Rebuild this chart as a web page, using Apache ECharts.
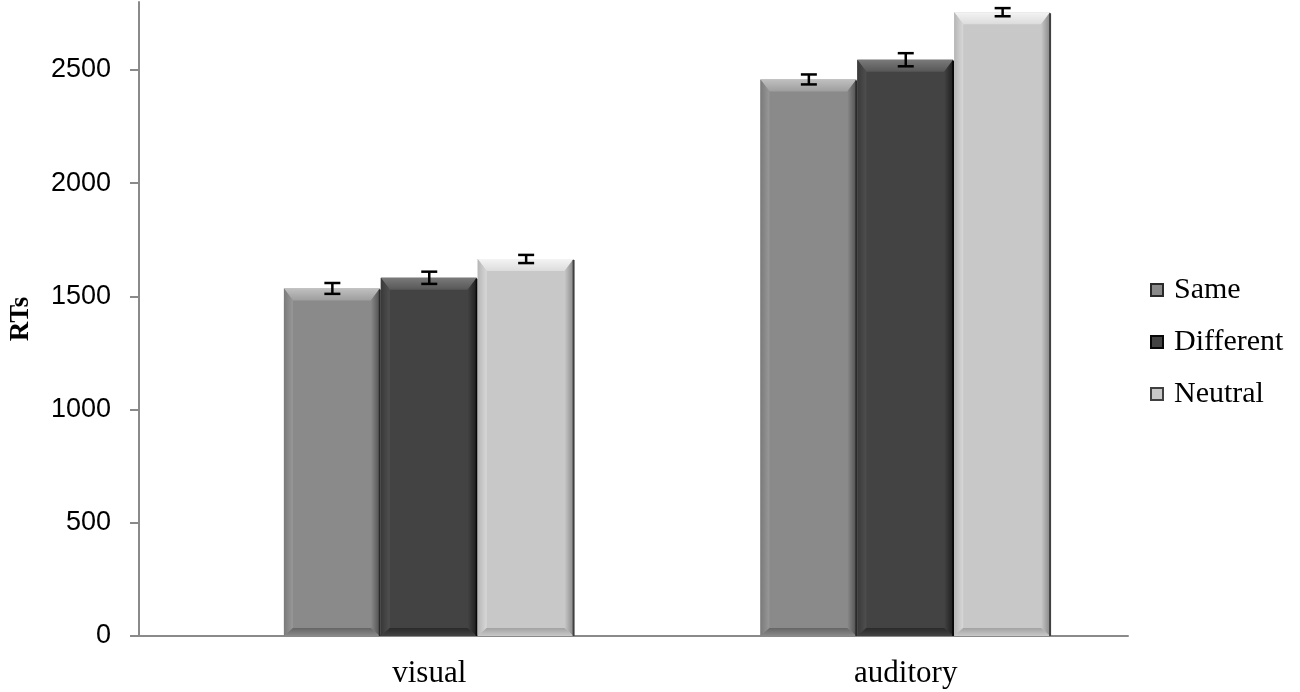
<!DOCTYPE html>
<html>
<head>
<meta charset="utf-8">
<script src="https://cdn.jsdelivr.net/npm/echarts@6/dist/echarts.min.js"></script>
<style>html,body{margin:0;padding:0;background:#fff}#chart{width:1300px;height:692px}</style>
</head>
<body>
<div id="chart"></div>
<script>
// ---- data ----
const categories = ['visual', 'auditory'];
const seriesNames = ['Same', 'Different', 'Neutral'];
const sameRT = [1535, 2458];
const sameErr = [24, 22];
const differentRT = [1582, 2545];
const differentErr = [27, 29];
const neutralRT = [1665, 2755];
const neutralErr = [18, 18];
const yTicks = [0, 500, 1000, 1500, 2000, 2500];
const yMin = 0, yMax = 2800;

// ---- styles ----
const palettes = [
  {face:'#8a8a8a', top0:'#c0c0c0', top1:'#9e9e9e', left0:'#7a7a7a', left1:'#989898', right:'#505050', bottom:'#656565', edge:'#2a2a2a'},
  {face:'#434343', top0:'#7a7a7a', top1:'#575757', left0:'#393939', left1:'#4f4f4f', right:'#1e1e1e', bottom:'#2a2a2a', edge:'#080808'},
  {face:'#c8c8c8', top0:'#f4f4f4', top1:'#dcdcdc', left0:'#b6b6b6', left1:'#d8d8d8', right:'#888888', bottom:'#a2a2a2', edge:'#404040'}
];
const values = [sameRT, differentRT, neutralRT];
const errs = [sameErr, differentErr, neutralErr];
const barRatio = 0.61;

function makeRender(sIdx) {
  const p = palettes[sIdx];
  return function (params, api) {
    const ci = api.value(0), v = api.value(1), e = api.value(2);
    const base = api.coord([ci, 0]);
    const top = api.coord([ci, v]);
    const band = api.size([1, 0])[0];
    const bw = band * barRatio / 3;
    const x0 = base[0] - 1.5 * bw + sIdx * bw;
    const x1 = x0 + bw - 1;
    const yt = top[1], yb = base[1];
    const bt = 12, bs = 9, bb = 8;
    const G = echarts.graphic.LinearGradient;
    const children = [];
    children.push({type:'rect', shape:{x:x0, y:yt, width:x1 - x0, height:yb - yt}, style:{fill:p.face}});
    children.push({type:'polygon', shape:{points:[[x0,yt],[x1,yt],[x1-bs,yt+bt],[x0+bs,yt+bt]]},
      style:{fill:new G(0,0,0,1,[{offset:0,color:p.top0},{offset:1,color:p.top1}])}});
    children.push({type:'polygon', shape:{points:[[x0,yt],[x0+bs,yt+bt],[x0+bs,yb-bb],[x0,yb]]},
      style:{fill:new G(0,0,1,0,[{offset:0,color:p.left0},{offset:1,color:p.left1}])}});
    children.push({type:'polygon', shape:{points:[[x1,yt],[x1,yb],[x1-bs,yb-bb],[x1-bs,yt+bt]]},
      style:{fill:new G(0,0,1,0,[{offset:0,color:p.face},{offset:1,color:p.right}])}});
    children.push({type:'polygon', shape:{points:[[x0,yb],[x0+bs,yb-bb],[x1-bs,yb-bb],[x1,yb]]},
      style:{fill:new G(0,0,0,1,[{offset:0,color:p.bottom},{offset:1,color:p.face}])}});
    children.push({type:'line', shape:{x1:x1, y1:yt + 1, x2:x1, y2:yb}, style:{stroke:p.edge, lineWidth:2}});
    // error bar
    const hi = api.coord([ci, v + e])[1], lo = api.coord([ci, v - e])[1];
    const xc = x0 + bw / 2, cw = 8;
    const eb = {stroke:'#000', lineWidth:2.5};
    children.push({type:'line', shape:{x1:xc, y1:hi, x2:xc, y2:lo}, style:eb});
    children.push({type:'line', shape:{x1:xc-cw, y1:hi, x2:xc+cw, y2:hi}, style:eb});
    children.push({type:'line', shape:{x1:xc-cw, y1:lo, x2:xc+cw, y2:lo}, style:eb});
    return {type:'group', children};
  };
}

const series = seriesNames.map((name, s) => ({
  name, type:'custom', xAxisIndex:1, yAxisIndex:1,
  itemStyle:{color:palettes[s].face, borderColor:palettes[s].edge, borderWidth:1},
  encode:{x:0, y:1},
  renderItem:makeRender(s),
  data:categories.map((c, i) => [i, values[s][i], errs[s][i]])
}));

const chart = echarts.init(document.getElementById('chart'), null, {renderer:'canvas'});
chart.setOption({
  animation:false,
  backgroundColor:'#fff',
  grid:[
    {left:139, right:172, top:2, bottom:56},
    {left:191, right:156, top:2, bottom:56}
  ],
  xAxis:[
    {type:'category', gridIndex:0, data:categories,
     axisLine:{show:true, lineStyle:{color:'#8a8a8a', width:2}}, axisTick:{show:false}, axisLabel:{show:false}},
    {type:'category', gridIndex:1, data:categories, boundaryGap:true,
     axisLine:{show:false}, axisTick:{show:false},
     axisLabel:{fontFamily:'Liberation Serif', fontSize:31, color:'#000', margin:22}}
  ],
  yAxis:[
    {type:'value', gridIndex:0, min:yMin, max:yMax,
     name:'RTs', nameLocation:'middle', nameRotate:90, nameGap:104,
     nameTextStyle:{fontFamily:'Liberation Serif', fontWeight:'bold', fontSize:27, color:'#000'},
     axisLine:{show:true, lineStyle:{color:'#8a8a8a', width:2}},
     axisTick:{show:true, inside:false, length:9, customValues:yTicks, lineStyle:{color:'#8a8a8a', width:2}},
     axisLabel:{customValues:yTicks, formatter:(v) => String(v), fontFamily:'Liberation Sans', fontSize:27, color:'#000', margin:28},
     splitLine:{show:false}},
    {type:'value', gridIndex:1, min:yMin, max:yMax, show:false, splitLine:{show:false}}
  ],
  legend:{
    orient:'vertical', left:1145, top:270, itemWidth:12, itemHeight:12, itemGap:22, icon:'rect',
    data:seriesNames,
    textStyle:{fontFamily:'Liberation Serif', fontSize:30, color:'#000', padding:[0,0,0,6]}
  },
  series
});
</script>
</body>
</html>
